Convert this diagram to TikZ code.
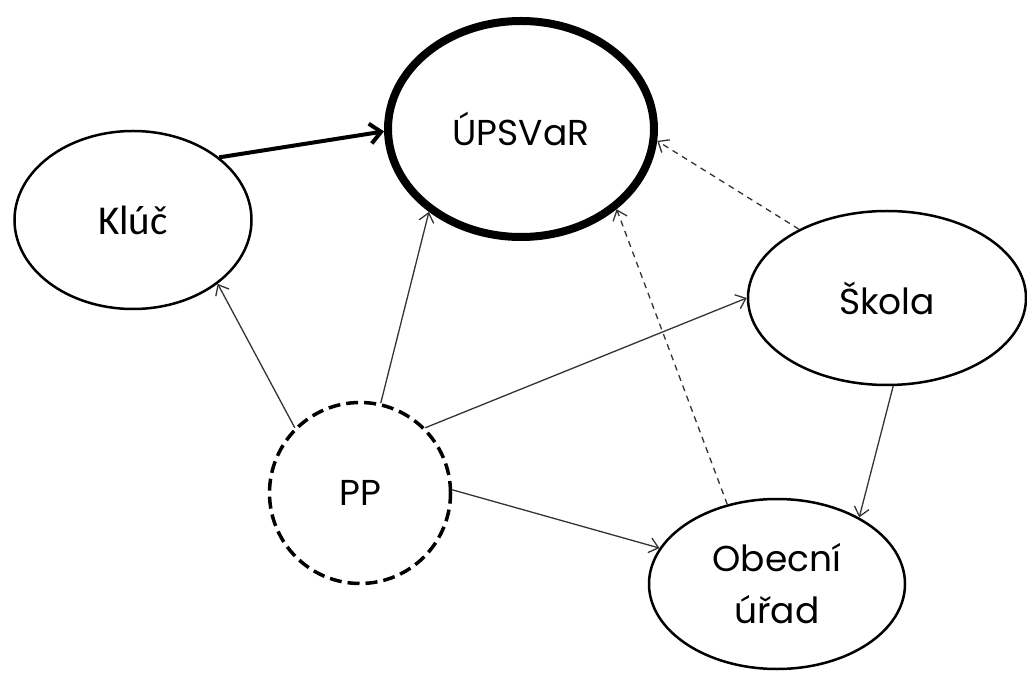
\documentclass[tikz,border=0pt]{standalone}
\usepackage{fontspec}
\setmainfont{Poppins}
\newfontfamily\klucfont{Carlito}
\usetikzlibrary{shapes.geometric,arrows.meta}

\begin{document}
\begin{tikzpicture}[x=1pt,y=1pt]
    \tikzstyle{oval} = [ellipse, draw, line width=2.5pt, align=center, inner sep=0pt, font=\fontsize{36}{52}\selectfont]
    \tikzstyle{arrow} = [line width=1.3pt, draw=black!80, -{Straight Barb[length=9pt,width=15pt]}]
    \tikzstyle{dasharrow} = [arrow, dash pattern=on 6pt off 5pt]

    \useasboundingbox (0,0) rectangle (1027,675);

    \node (kluc) [oval, minimum width=237pt, minimum height=178pt, font=\klucfont\fontsize{41}{48}\selectfont] at (133,455) {Klúč};
    \node (upsvar) [oval, line width=8pt, minimum width=266pt, minimum height=216pt] at (521,546) {ÚPSVaR};
    \node (skola) [oval, minimum width=278pt, minimum height=174pt] at (887,377) {Škola};
    \node (pp) [oval, circle, line width=3.5pt, dash pattern=on 12pt off 6pt, minimum size=181pt] at (360,182) {PP};
    \node (obec) [oval, minimum width=256pt, minimum height=170pt] at (777,91) {Obecní\\úřad};

    \draw [arrow, line width=4pt, draw=black, -{Straight Barb[length=11pt,width=20pt]}] (kluc.36.5) -- (upsvar.181.3);
    \draw [arrow] (pp.135.4) -- (kluc.-37.4);
    \draw [arrow] (pp.77.5) -- (upsvar.222.8);
    \draw [arrow] (pp.45.4) -- (skola.180.4);
    \draw [arrow] (pp.2) -- (obec.163.8);
    \draw [arrow] (skola.-86.8) -- (obec.39.5);
    \draw [dasharrow] (skola.142.8) -- (upsvar.-5.9);
    \draw [dasharrow] (obec.122.6) -- (upsvar.-40.8);
\end{tikzpicture}
\end{document}
